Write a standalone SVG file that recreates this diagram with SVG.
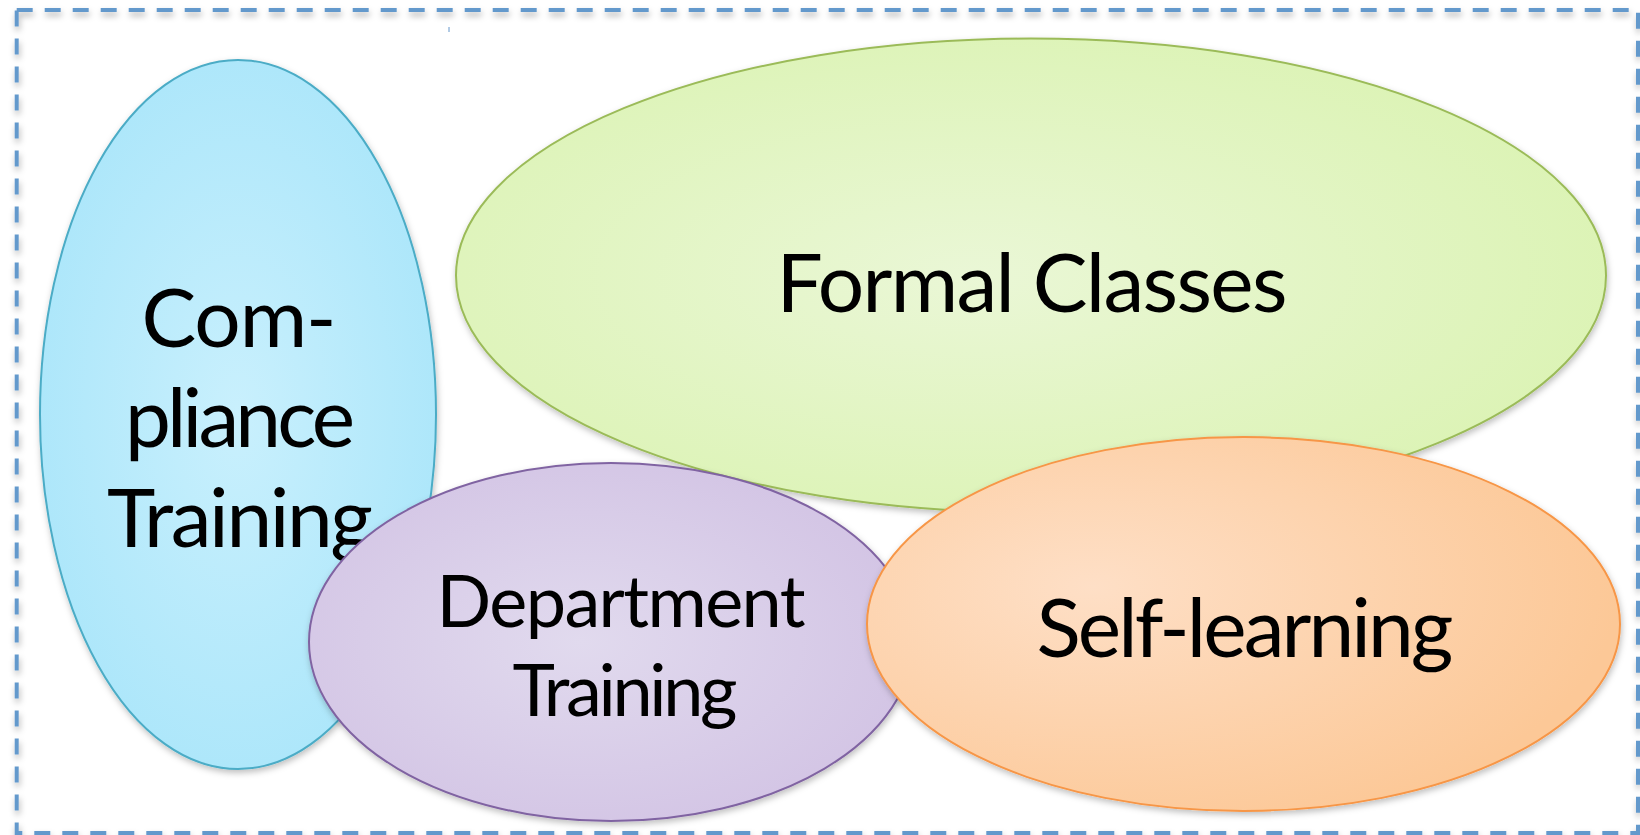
<svg xmlns="http://www.w3.org/2000/svg" width="1640" height="835" viewBox="0 0 1640 835">
<style>
.lbl{font-family:Lato,"Open Sans","Liberation Sans",sans-serif;fill:#000;text-anchor:middle}
.big{font-size:82px}
.mid{font-size:72px}
.frame{fill:none;stroke:#6499CC;stroke-width:4;stroke-dasharray:16 12}
</style>
<defs>
<filter id="sh" x="-10%" y="-10%" width="120%" height="120%">
<feDropShadow dx="1" dy="3" stdDeviation="3" flood-color="#000" flood-opacity="0.25"/>
</filter>
<filter id="fsh" x="-5%" y="-5%" width="110%" height="110%">
<feDropShadow dx="1" dy="4" stdDeviation="3" flood-color="#000" flood-opacity="0.3"/>
</filter>
<radialGradient id="gBlue" cx="50%" cy="50%" r="55%">
<stop offset="0" stop-color="#C9F0FD"/><stop offset="1" stop-color="#ABE6FA"/>
</radialGradient>
<radialGradient id="gGreen" cx="45%" cy="50%" r="60%">
<stop offset="0" stop-color="#EAF7D6"/><stop offset="1" stop-color="#DBF3B3"/>
</radialGradient>
<radialGradient id="gPurple" cx="45%" cy="50%" r="60%">
<stop offset="0" stop-color="#E1DAEE"/><stop offset="1" stop-color="#D2C3E4"/>
</radialGradient>
<radialGradient id="gOrange" cx="30%" cy="40%" r="70%">
<stop offset="0" stop-color="#FEDFC6"/><stop offset="1" stop-color="#FCC897"/>
</radialGradient>
</defs>
<rect width="1640" height="835" fill="#fff"/>
<rect class="frame" x="16.7" y="10" width="1621.3" height="823" filter="url(#fsh)"/>
<line x1="449" y1="27" x2="449" y2="32" stroke="#6496CB" stroke-width="1"/>
<g id="compliance">
<ellipse cx="238" cy="414.5" rx="198" ry="354.5" fill="url(#gBlue)" stroke="#4BACC6" stroke-width="2" filter="url(#sh)"/>
<text class="lbl big" x="239" y="347" textLength="195">Com-</text>
<text class="lbl big" x="240" y="447" textLength="230">pliance</text>
<text class="lbl big" x="240" y="547" textLength="266">Training</text>
</g>
<g id="formal">
<ellipse cx="1031" cy="275.5" rx="575" ry="237" fill="url(#gGreen)" stroke="#9BBB59" stroke-width="2" filter="url(#sh)"/>
<text class="lbl big" x="1032" y="312" textLength="511">Formal Classes</text>
</g>
<g id="department">
<ellipse cx="611" cy="642" rx="302" ry="179" fill="url(#gPurple)" stroke="#8064A2" stroke-width="2" filter="url(#sh)"/>
<text class="lbl mid" x="621" y="627" textLength="369">Department</text>
<text class="lbl mid" x="625" y="716" textLength="225">Training</text>
</g>
<g id="selflearning">
<ellipse cx="1243.5" cy="624" rx="376.5" ry="187" fill="url(#gOrange)" stroke="#F79646" stroke-width="2" filter="url(#sh)"/>
<text class="lbl big" x="1245" y="657" textLength="417">Self-learning</text>
</g>
<g id="connectors"/>
</svg>
